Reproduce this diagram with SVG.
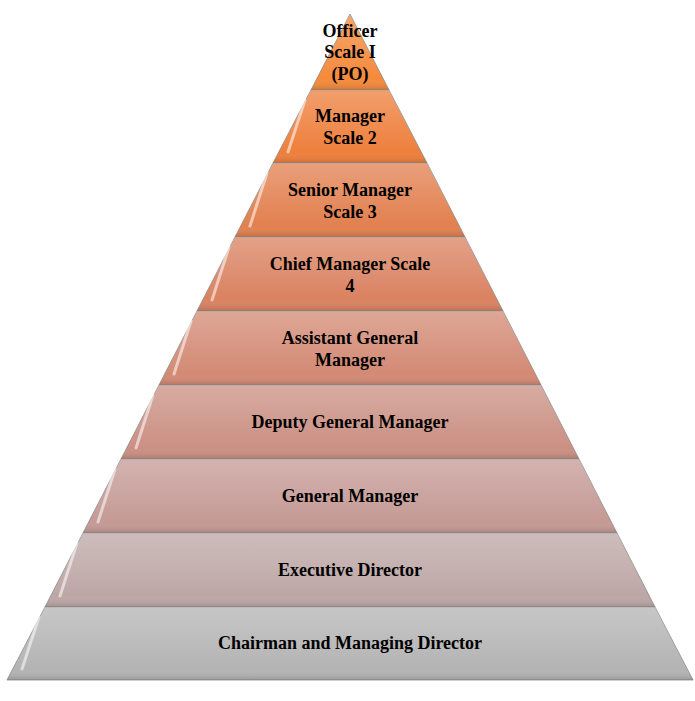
<svg xmlns="http://www.w3.org/2000/svg" width="695" height="701" viewBox="0 0 695 701">
<style>
.t{font-family:"Liberation Serif",serif;font-weight:bold;font-size:18px;fill:#000;text-anchor:middle}
.b{stroke:#8a8a8a;stroke-width:0.8}
.h{fill:none;stroke:#fff;stroke-opacity:0.55;stroke-width:3;stroke-linecap:round}
</style>
<defs>
<linearGradient id="sh" x1="0" y1="0" x2="0" y2="1">
<stop offset="0" stop-color="#fff" stop-opacity="0.25"/>
<stop offset="0.85" stop-color="#fff" stop-opacity="0"/>
<stop offset="1" stop-color="#000" stop-opacity="0.15"/>
</linearGradient>
</defs>
<rect width="695" height="701" fill="#fff"/>
<g id="level1"><polygon class="b" points="350,14 389,90 311,90" fill="#F58A3C"/><polygon points="350,14 389,90 311,90" fill="url(#sh)"/>
<text class="t" x="350" y="37">Officer</text><text class="t" x="350" y="58">Scale I</text><text class="t" x="350" y="80">(PO)</text></g>
<g id="level2"><polygon class="b" points="311,90 389,90 427,163 273,163" fill="#EE7F3C"/><polygon points="311,90 389,90 427,163 273,163" fill="url(#sh)"/><path class="h" d="M305,100 L288,152"/>
<text class="t" x="350" y="122">Manager</text><text class="t" x="350" y="144">Scale 2</text></g>
<g id="level3"><polygon class="b" points="273,163 427,163 465,237 235,237" fill="#E2804F"/><polygon points="273,163 427,163 465,237 235,237" fill="url(#sh)"/><path class="h" d="M267,173 L250,226"/>
<text class="t" x="350" y="196">Senior Manager</text><text class="t" x="350" y="218">Scale 3</text></g>
<g id="level4"><polygon class="b" points="235,237 465,237 503,311 197,311" fill="#DA8261"/><polygon points="235,237 465,237 503,311 197,311" fill="url(#sh)"/><path class="h" d="M229,247 L212,300"/>
<text class="t" x="350" y="270">Chief Manager Scale</text><text class="t" x="350" y="292">4</text></g>
<g id="level5"><polygon class="b" points="197,311 503,311 541,385 159,385" fill="#D38A74"/><polygon points="197,311 503,311 541,385 159,385" fill="url(#sh)"/><path class="h" d="M191,321 L174,374"/>
<text class="t" x="350" y="344">Assistant General</text><text class="t" x="350" y="366">Manager</text></g>
<g id="level6"><polygon class="b" points="159,385 541,385 579,459 121,459" fill="#CB9083"/><polygon points="159,385 541,385 579,459 121,459" fill="url(#sh)"/><path class="h" d="M153,395 L136,448"/>
<text class="t" x="350" y="428">Deputy General Manager</text></g>
<g id="level7"><polygon class="b" points="121,459 579,459 617,533 83,533" fill="#C59A95"/><polygon points="121,459 579,459 617,533 83,533" fill="url(#sh)"/><path class="h" d="M115,469 L98,522"/>
<text class="t" x="350" y="502">General Manager</text></g>
<g id="level8"><polygon class="b" points="83,533 617,533 655,607 45,607" fill="#BDA7A6"/><polygon points="83,533 617,533 655,607 45,607" fill="url(#sh)"/><path class="h" d="M77,543 L60,596"/>
<text class="t" x="350" y="576">Executive Director</text></g>
<g id="level9"><polygon class="b" points="45,607 655,607 693,680 7,680" fill="#B4B4B4"/><polygon points="45,607 655,607 693,680 7,680" fill="url(#sh)"/><path class="h" d="M39,617 L22,669"/>
<text class="t" x="350" y="649">Chairman and Managing Director</text></g>
<g id="connectors"/>
</svg>
